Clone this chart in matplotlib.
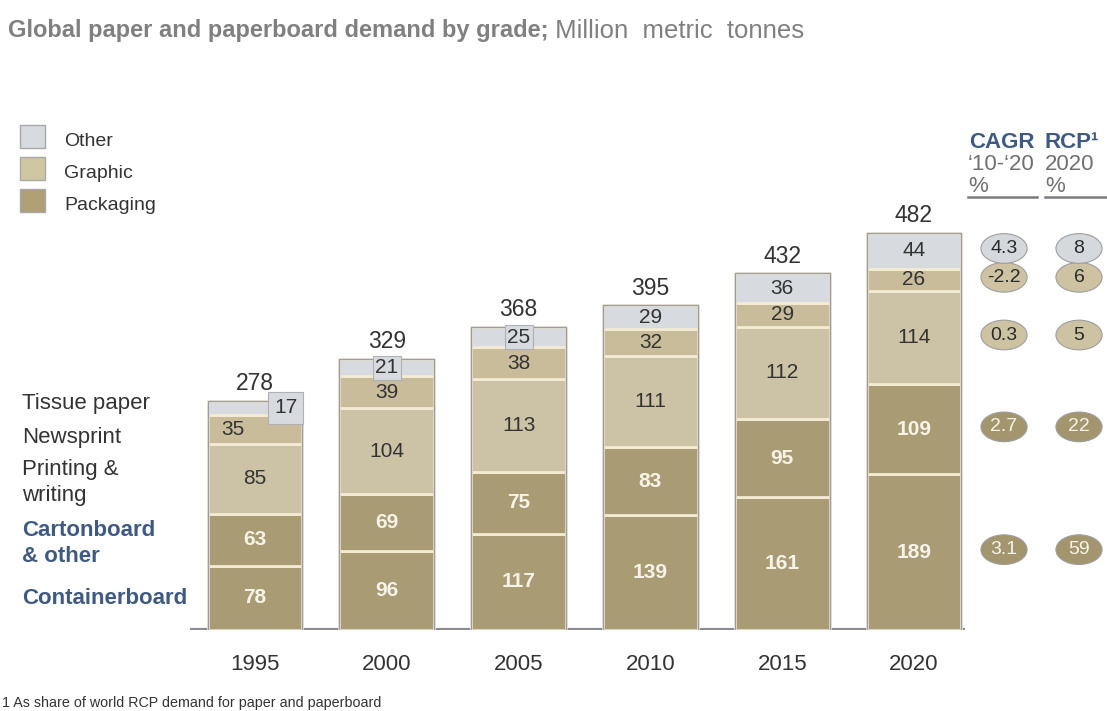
import matplotlib.pyplot as plt
from matplotlib.patches import Ellipse, Rectangle
import numpy as np

plt.rcParams['font.family'] = ['Liberation Sans', 'DejaVu Sans']

# data, bottom to top of each bar
years = ['1995', '2000', '2005', '2010', '2015', '2020']
containerboard = [78, 96, 117, 139, 161, 189]
cartonboard = [63, 69, 75, 83, 95, 109]
printing = [85, 104, 113, 111, 112, 114]
newsprint = [35, 39, 38, 32, 29, 26]
tissue = [17, 21, 25, 29, 36, 44]
totals = [278, 329, 368, 395, 432, 482]

# right hand columns, same order as the segments
cagr = ['3.1', '2.7', '0.3', '-2.2', '4.3']
rcp = ['59', '22', '5', '6', '8']

series = [containerboard, cartonboard, printing, newsprint, tissue]

c_pack = '#a99b73'
c_news = '#c8bc9b'
c_print = '#ccc2a5'
c_other = '#d7dbe0'
cream = '#f3ebd3'
navy = '#3e5a82'
dark = '#333333'
seg_colors = [c_pack, c_pack, c_print, c_news, c_other]
txt_colors = ['#f7f3e8', '#f7f3e8', dark, dark, dark]
txt_weight = ['bold', 'bold', 'normal', 'normal', 'normal']
oval_colors = ['#a3956d', '#a3956d', '#cdc3a3', '#cdc3a3', '#d5d9de']

W, H = 1107, 711
fig = plt.figure(figsize=(W / 100, H / 100), dpi=100)
fig.patch.set_facecolor('white')

ax = fig.add_axes([190 / W, (H - 630) / H, 775 / W, 412 / H])
ax.set_xlim(-0.493, 5.387)
ax.set_ylim(0, 500)
ax.axis('off')

x = np.arange(len(years))
bw = 0.72
bottom = np.zeros(len(years))
centers = []
for k, vals in enumerate(series):
    vals = np.array(vals, dtype=float)
    ax.bar(x, vals, bw, bottom=bottom, color=seg_colors[k], edgecolor=cream, linewidth=2, zorder=2)
    centers.append(bottom + vals / 2)
    for i in range(len(years)):
        dx, dy = 0, 0
        box = None
        if k == 4 and i < 3:
            box = dict(boxstyle='square,pad=0.12', facecolor=c_other, edgecolor='#b0b0b6', linewidth=0.8)
        if k == 4 and i == 0:
            dx = 22
            box = dict(boxstyle='square,pad=0.3', facecolor=c_other, edgecolor='#b0b0b6', linewidth=0.8)
        if k == 3 and i == 0:
            dx = -16
        ax.annotate(str(int(vals[i])), (x[i], bottom[i] + vals[i] / 2), xytext=(dx, dy),
                    textcoords='offset points', ha='center', va='center', fontsize=15,
                    color=txt_colors[k], fontweight=txt_weight[k], zorder=5, bbox=box)
    bottom += vals

# outline of each stack
ax.bar(x, bottom, bw, fill=False, edgecolor='#9c9ca2', linewidth=1.0, zorder=3)

for i in range(len(years)):
    ax.annotate(str(totals[i]), (x[i], bottom[i]), xytext=(0, 4), textcoords='offset points',
                ha='center', va='bottom', fontsize=16.5, color=dark)

ax.axhline(0, xmin=0, xmax=1, color='#8a8a92', linewidth=3, zorder=1)

for i, yr in enumerate(years):
    ax.annotate(yr, (x[i], 0), xytext=(0, -25), textcoords='offset points',
                ha='center', va='center', fontsize=16, color=dark)

# ovals on the right, level with the 2020 segments
col_x = [5.683, 6.252]
for k in range(len(series)):
    yc = centers[k][-1] + 3
    for cx, lab in zip(col_x, [cagr[k], rcp[k]]):
        e = Ellipse((cx, yc), 0.35, 36, facecolor=oval_colors[k], edgecolor='#9e9e9e',
                    linewidth=0.8, clip_on=False, zorder=3)
        ax.add_patch(e)
        tc = '#f7f3e8' if k < 2 else '#2a2a2a'
        ax.text(cx, yc, lab, ha='center', va='center', fontsize=14, color=tc, zorder=4, clip_on=False)

def fx(px):
    return px / W

def fy(py):
    return 1 - py / H

# title
t1 = fig.text(fx(8), fy(31), 'Global paper and paperboard demand by grade;', fontsize=17,
              fontweight='bold', color='#808080', va='center')
ax.annotate(' Million  metric  tonnes', xy=(1, 0.5), xycoords=t1, ha='left', va='center',
            fontsize=18.5, color='#808080')

# column headers
fig.text(fx(969), fy(143), 'CAGR', fontsize=16, fontweight='bold', color=navy, va='center')
fig.text(fx(1045), fy(143), 'RCP¹', fontsize=16, fontweight='bold', color=navy, va='center')
fig.text(fx(968), fy(164), '‘10-‘20', fontsize=16, color='#707070', va='center')
fig.text(fx(1045), fy(164), '2020', fontsize=16, color='#707070', va='center')
fig.text(fx(968), fy(186), '%', fontsize=16, color='#707070', va='center')
fig.text(fx(1045), fy(186), '%', fontsize=16, color='#707070', va='center')
for x0, x1 in [(968, 1037), (1045, 1107)]:
    fig.add_artist(plt.Line2D([fx(x0), fx(x1)], [fy(197), fy(197)], color='#7a7a80', linewidth=1.8))

# legend
leg_items = [('Other', c_other, 137), ('Graphic', '#cfc6a2', 169), ('Packaging', '#ae9f74', 201)]
for name, col, yc in leg_items:
    fig.add_artist(Rectangle((fx(20), fy(yc + 11)), 25 / W, 23 / H, facecolor=col,
                             edgecolor='#a8a8a8', linewidth=1.0, transform=fig.transFigure))
    fig.text(fx(64), fy(yc + 4), name, fontsize=14, color=dark, va='center')

# category labels on the left
cat_labels = [('Tissue paper', 404, dark, 'normal'), ('Newsprint', 437, dark, 'normal'),
              ('Printing &', 470, dark, 'normal'), ('writing', 496, dark, 'normal'),
              ('Cartonboard', 531, navy, 'bold'), ('& other', 557, navy, 'bold'),
              ('Containerboard', 599, navy, 'bold')]
for lab, yc, col, wt in cat_labels:
    fig.text(fx(22), fy(yc), lab, fontsize=16, color=col, fontweight=wt, va='center')

fig.text(fx(2), fy(703), '1 As share of world RCP demand for paper and paperboard', fontsize=10.3,
         color=dark, va='center')

fig.savefig('out.png', dpi=100)
